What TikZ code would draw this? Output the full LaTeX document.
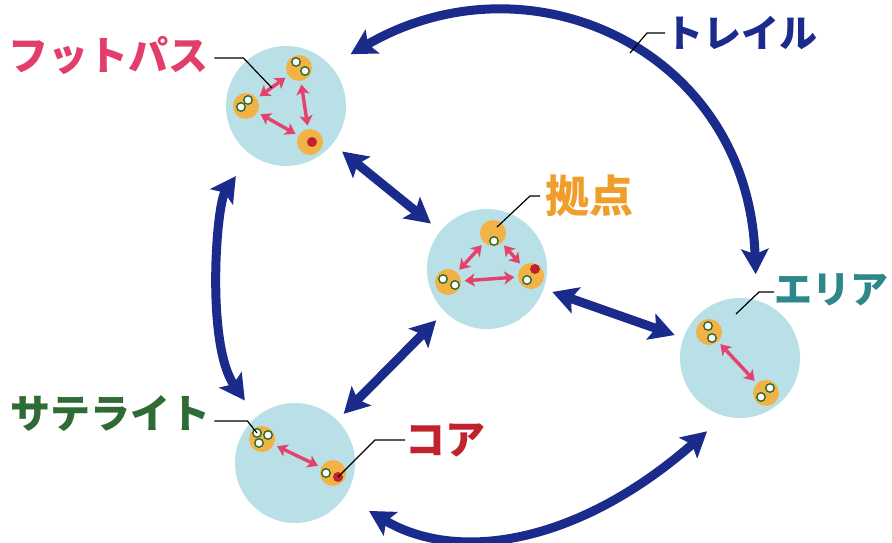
\documentclass[tikz,border=0pt]{standalone}
\usepackage{fontspec}
\newfontfamily\jp{Noto Sans CJK JP}
\usetikzlibrary{arrows.meta}

\definecolor{groupblue}{HTML}{B9E0E6}
\definecolor{siteorange}{HTML}{F3B246}
\definecolor{walkergreen}{HTML}{2E6B2E}
\definecolor{corered}{HTML}{C0232C}
\definecolor{navy}{HTML}{1B2B8B}
\definecolor{linkpink}{HTML}{E4416C}
\definecolor{fpcol}{HTML}{E23E6B}
\definecolor{hubcol}{HTML}{F09D2B}
\definecolor{areacol}{HTML}{2E8789}
\definecolor{satcol}{HTML}{2F6B34}

\begin{document}
\begin{tikzpicture}[x=1pt, y=-1pt,
  group/.style={circle, fill=groupblue, minimum size=120pt, inner sep=0pt},
  site/.style={circle, fill=siteorange, minimum size=26pt, inner sep=0pt},
  walker/.style={circle, fill=white, draw=walkergreen, line width=1.4pt, minimum size=8.5pt, inner sep=0pt},
  core/.style={circle, fill=corered, minimum size=10pt, inner sep=0pt},
  bigarrow/.style={draw=navy, line width=9pt, >={Stealth[length=25pt,width=27pt,inset=5pt]}, <->},
  link/.style={draw=linkpink, line width=3.4pt, >={Stealth[length=10pt,width=13pt,inset=2.5pt]}, <->,
    shorten <=3.5pt, shorten >=3.5pt},
  lbl/.style={font=\jp\bfseries\fontsize{40}{42}\selectfont, inner sep=0pt, anchor=west},
  leader/.style={draw=black, line width=1.2pt}]
  \useasboundingbox (0,0) rectangle (892,543);

  % groups
  \node [group] (fp) at (286,106) {};
  \node [group] (hub) at (487,269) {};
  \node [group] (area) at (740,358) {};
  \node [group] (sat) at (295,463) {};

  % footpath
  \node [site] (fpA) at (299,68) {};
  \node [site] (fpB) at (246,106) {};
  \node [site] (fpC) at (310,142) {};
  \node [walker] at (296,62) {};
  \node [walker] at (305,71) {};
  \node [walker] at (248,100) {};
  \node [walker] at (241,107) {};
  \node [core] (fpR) at (312,142) {};
  \path (fpB) edge [link] (fpA);
  \path (fpA) edge [link] (fpC);
  \path (fpB) edge [link] (fpC);

  % hub
  \node [site] (hubA) at (493,233) {};
  \node [site] (hubB) at (448,282) {};
  \node [site] (hubC) at (531,276) {};
  \node [walker] at (494,241) {};
  \node [walker] at (443,279) {};
  \node [walker] at (455,285) {};
  \node [core] (hubR) at (535,269) {};
  \node [walker] at (527,280) {};
  \path (hubA) edge [link] (hubB);
  \path (hubA) edge [link] (hubC);
  \path (hubB) edge [link] (hubC);

  % area
  \node [site] (areaA) at (709,332) {};
  \node [site] (areaB) at (766,393) {};
  \node [walker] at (708,326) {};
  \node [walker] at (712,338) {};
  \node [walker] at (770,388) {};
  \node [walker] at (761,397) {};
  \path (areaA) edge [link] (areaB);

  % satellite
  \node [site] (satA) at (262,439) {};
  \node [site] (satB) at (333,473) {};
  \node [walker] (satW) at (257,433) {};
  \node [walker] at (268,435) {};
  \node [walker] at (259,443) {};
  \node [walker] at (326,473) {};
  \node [core] (satR) at (338,477) {};
  \path (satA) edge [link] (satB);

  % flows between groups
  \path (fp) edge [bigarrow, shorten <=12pt, shorten >=12pt] (hub);
  \path (hub) edge [bigarrow, shorten <=9pt, shorten >=9pt] (area);
  \path (hub) edge [bigarrow, shorten <=12pt, shorten >=9pt] (sat);
  \draw [bigarrow, shorten <=26pt, shorten >=20pt] (fp.234) .. controls (216,205) and (206,345) .. (sat.130);
  \draw [bigarrow, shorten <=28pt, shorten >=23pt] (sat.-34) .. controls (455,562) and (575,547) .. (area.255);
  \draw [bigarrow, shorten <=23pt, shorten >=26pt] (fp.42) .. controls (530,-50) and (748,50) .. (area.74);

  % labels
  \node [lbl, text=fpcol] (fplabel) at (8,55) {フットパス};
  \node [lbl, text=navy, font=\jp\bfseries\fontsize{38}{40}\selectfont] (traillabel) at (665,33) {トレイル};
  \node [lbl, text=hubcol, font=\jp\bfseries\fontsize{44}{46}\selectfont] (hublabel) at (545,196) {拠点};
  \node [lbl, text=areacol, font=\jp\bfseries\fontsize{38}{40}\selectfont] (arealabel) at (774,290) {エリア};
  \node [lbl, text=satcol] (satlabel) at (10,413) {サテライト};
  \node [lbl, text=corered] (corelabel) at (405,440) {コア};

  \coordinate (fppt) at (272,88);
  \coordinate (trailpt) at (630,53);
  \coordinate (hubpt) at (497,227);
  \coordinate (areapt) at (736,314);

  \draw [leader] (fplabel.east) ++(6,3) -- ++(29,0) -- (fppt);
  \draw [leader] (traillabel.west) -- ++(-18,0) -- (trailpt);
  \draw [leader] (hublabel.west) ++(-5,0) -- ++(-10,0) -- (hubpt);
  \draw [leader] (arealabel.west) ++(0,2) -- ++(-15,0) -- (areapt);
  \draw [leader] (satlabel.east) ++(4,8) -- ++(33,0) -- (satW.center);
  \draw [leader] (corelabel.west) -- ++(-30,0) -- (satR.center);
\end{tikzpicture}
\end{document}
